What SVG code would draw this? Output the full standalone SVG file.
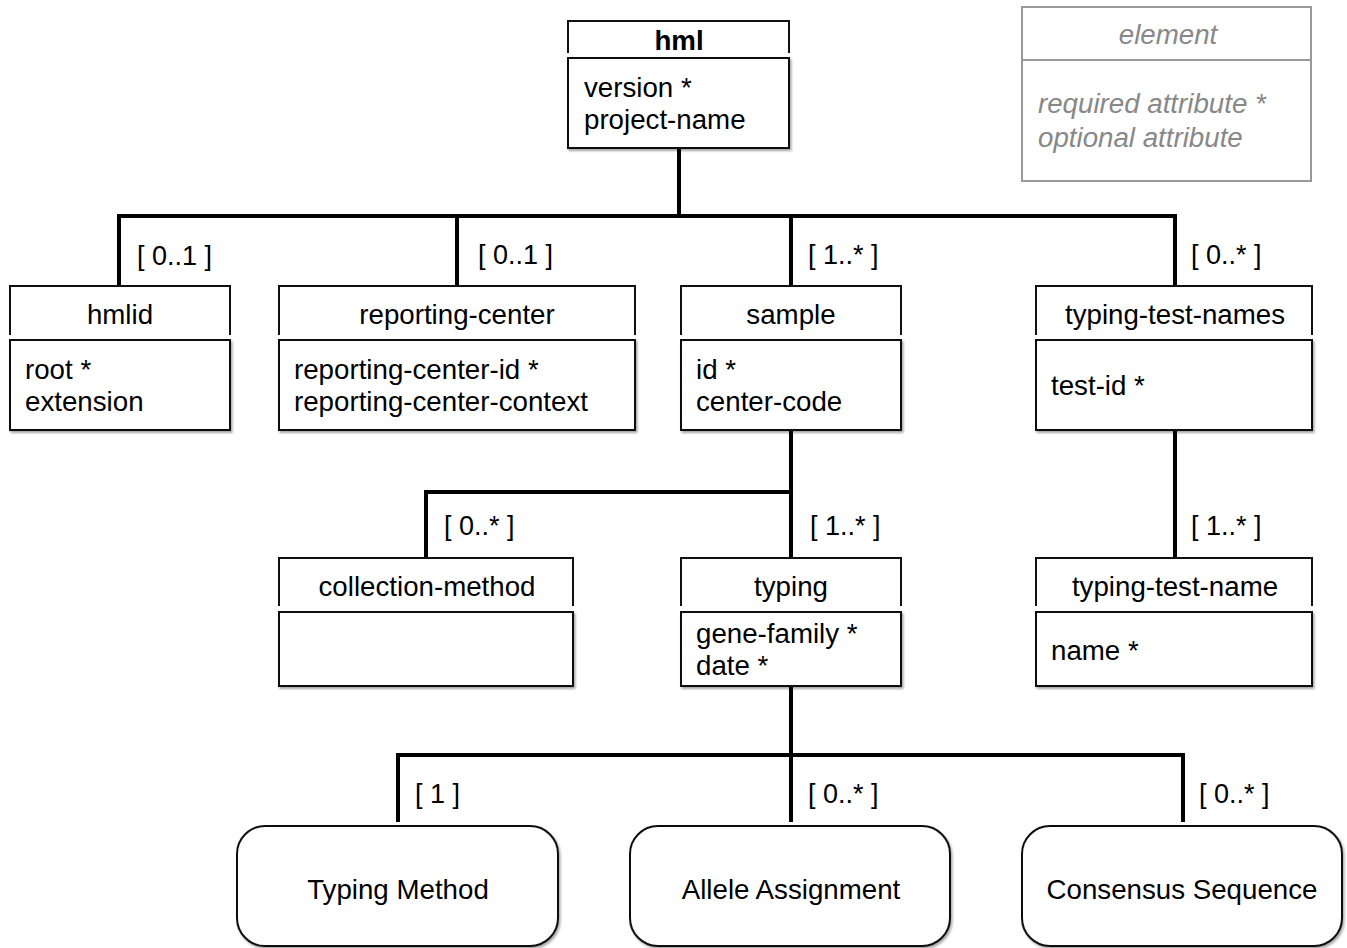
<svg xmlns="http://www.w3.org/2000/svg" width="1347" height="948" viewBox="0 0 1347 948">
<style>
text{font-family:"Liberation Sans",Arial,sans-serif;font-size:27.7px;fill:#000}
.t{text-anchor:middle}
.b{font-weight:bold}
.lb{font-size:27px}
.hdr{fill:none;stroke:#111;stroke-width:2}
.att{fill:#fff;stroke:#111;stroke-width:2;filter:url(#sh)}
.rnd{fill:#fff;stroke:#111;stroke-width:2;filter:url(#sh)}
.con{fill:none;stroke:#000;stroke-width:4;stroke-linejoin:miter;stroke-linecap:butt}
.lg{fill:#fff;stroke:#999;stroke-width:2}
.lt{fill:#888;font-style:italic}
</style>
<defs>
<filter id="sh" x="-5%" y="-5%" width="115%" height="120%">
<feDropShadow dx="1.5" dy="2" stdDeviation="1.2" flood-color="#000" flood-opacity="0.35"/>
</filter>
</defs>
<rect width="1347" height="948" fill="#fff"/>

<g id="connectors">
<path class="con" d="M679 148 V216"/>
<path class="con" d="M119 286 V216 H1175 V286"/>
<path class="con" d="M457 216 V286"/>
<path class="con" d="M791 216 V286"/>
<path class="con" d="M791 430 V558"/>
<path class="con" d="M426 558 V492 H791"/>
<path class="con" d="M1175 430 V558"/>
<path class="con" d="M791 686 V822"/>
<path class="con" d="M398 822 V755 H1183 V822"/>
<text class="lb" x="137" y="265">[ 0..1 ]</text>
<text class="lb" x="478" y="264">[ 0..1 ]</text>
<text class="lb" x="808" y="264">[ 1..* ]</text>
<text class="lb" x="1191" y="264">[ 0..* ]</text>
<text class="lb" x="444" y="535">[ 0..* ]</text>
<text class="lb" x="810" y="535">[ 1..* ]</text>
<text class="lb" x="1191" y="535">[ 1..* ]</text>
<text class="lb" x="415" y="803">[ 1 ]</text>
<text class="lb" x="808" y="803">[ 0..* ]</text>
<text class="lb" x="1199" y="803">[ 0..* ]</text>
</g>

<g id="legend">
<rect class="lg" x="1022" y="7" width="289" height="174"/>
<line x1="1022" y1="60" x2="1311" y2="60" stroke="#999" stroke-width="2"/>
<text class="lt t" x="1168" y="44">element</text>
<text class="lt" x="1038" y="113">required attribute *</text>
<text class="lt" x="1038" y="147">optional attribute</text>
</g>

<g id="hml">
<path class="hdr" d="M568 53 V21 H789 V53"/>
<rect class="att" x="568" y="58" width="221" height="90"/>
<text class="t b" x="679" y="50">hml</text>
<text x="584" y="97">version *</text>
<text x="584" y="129">project-name</text>
</g>

<g id="hmlid">
<path class="hdr" d="M10 335 V286 H230 V335"/>
<rect class="att" x="10" y="340" width="220" height="90"/>
<text class="t" x="120" y="324">hmlid</text>
<text x="25" y="379">root *</text>
<text x="25" y="411">extension</text>
</g>

<g id="reporting-center">
<path class="hdr" d="M279 335 V286 H635 V335"/>
<rect class="att" x="279" y="340" width="356" height="90"/>
<text class="t" x="457" y="324">reporting-center</text>
<text x="294" y="379">reporting-center-id *</text>
<text x="294" y="411">reporting-center-context</text>
</g>

<g id="sample">
<path class="hdr" d="M681 335 V286 H901 V335"/>
<rect class="att" x="681" y="340" width="220" height="90"/>
<text class="t" x="791" y="324">sample</text>
<text x="696" y="379">id *</text>
<text x="696" y="411">center-code</text>
</g>

<g id="typing-test-names">
<path class="hdr" d="M1036 335 V286 H1312 V335"/>
<rect class="att" x="1036" y="340" width="276" height="90"/>
<text class="t" x="1175" y="324">typing-test-names</text>
<text x="1051" y="395">test-id *</text>
</g>

<g id="collection-method">
<path class="hdr" d="M279 606 V558 H573 V606"/>
<rect class="att" x="279" y="612" width="294" height="74"/>
<text class="t" x="427" y="596">collection-method</text>
</g>

<g id="typing">
<path class="hdr" d="M681 606 V558 H901 V606"/>
<rect class="att" x="681" y="612" width="220" height="74"/>
<text class="t" x="791" y="596">typing</text>
<text x="696" y="643">gene-family *</text>
<text x="696" y="675">date *</text>
</g>

<g id="typing-test-name">
<path class="hdr" d="M1036 606 V558 H1312 V606"/>
<rect class="att" x="1036" y="612" width="276" height="74"/>
<text class="t" x="1175" y="596">typing-test-name</text>
<text x="1051" y="660">name *</text>
</g>

<g id="typing-method">
<rect class="rnd" x="237" y="826" width="321" height="120" rx="28"/>
<text class="t" x="398" y="899">Typing Method</text>
</g>

<g id="allele-assignment">
<rect class="rnd" x="630" y="826" width="320" height="120" rx="28"/>
<text class="t" x="791" y="899">Allele Assignment</text>
</g>

<g id="consensus-sequence">
<rect class="rnd" x="1022" y="826" width="320" height="120" rx="28"/>
<text class="t" x="1182" y="899">Consensus Sequence</text>
</g>
</svg>
